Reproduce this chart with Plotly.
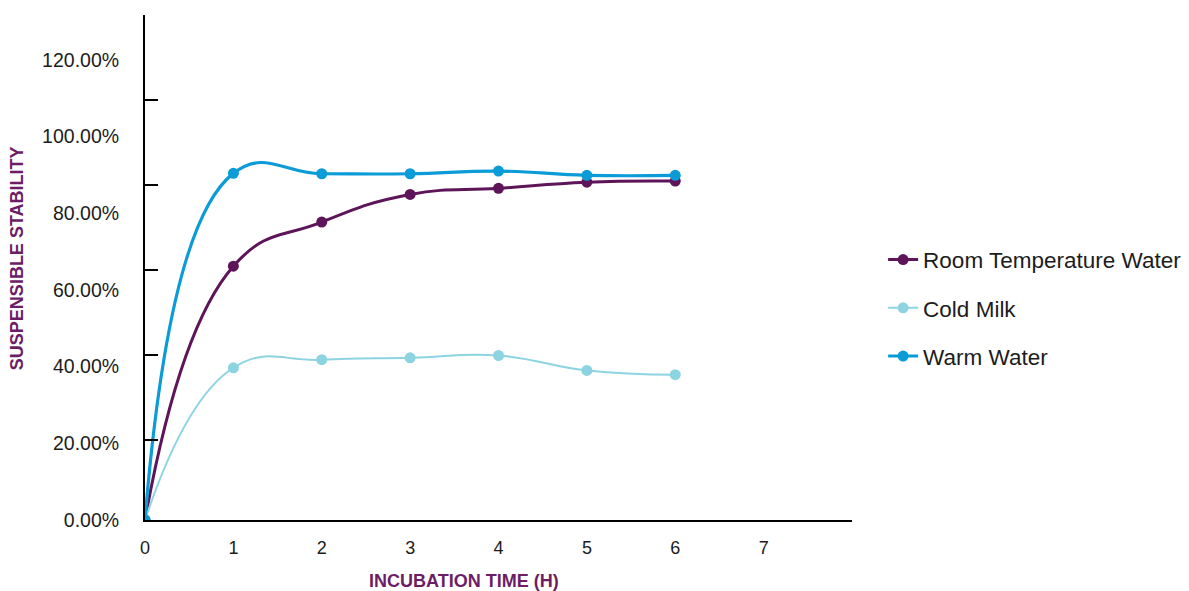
import plotly.graph_objects as go

hours = [0, 1, 2, 3, 4, 5, 6]
room_temp_water = [0.0, 66.2, 77.7, 84.9, 86.5, 88.1, 88.4]
cold_milk = [0.0, 39.7, 41.8, 42.3, 42.9, 39.0, 37.9]
warm_water = [0.0, 90.4, 90.3, 90.3, 91.0, 89.9, 89.9]

y_tick_vals = [0, 20, 40, 60, 80, 100, 120]
y_tick_text = ["0.00%", "20.00%", "40.00%", "60.00%", "80.00%", "100.00%", "120.00%"]
x_tick_vals = [0, 1, 2, 3, 4, 5, 6, 7]

FONT = "Liberation Sans, Arial, sans-serif"
TITLE_PURPLE = "#6c1d66"
TEXT = "#1c1c1c"

series = [
    ("Room Temperature Water", room_temp_water, "#5e1458", 3),
    ("Cold Milk", cold_milk, "#8dd4e2", 2),
    ("Warm Water", warm_water, "#0b9bd7", 3.2),
]

fig = go.Figure()
for i, (name, vals, color, width) in enumerate(series):
    fig.add_trace(go.Scatter(
        x=hours, y=vals, name=name, mode="lines+markers",
        line=dict(color=color, width=width, shape="spline", smoothing=1.3),
        marker=dict(color=color, size=11),
        legendgroup=f"g{i}",
    ))

# invisible trace to carry the tick-mark axis
fig.add_trace(go.Scatter(x=[None], y=[None], yaxis="y2", showlegend=False, hoverinfo="skip"))

fig.update_layout(
    width=1189, height=591,
    paper_bgcolor="white", plot_bgcolor="white",
    margin=dict(l=145, r=337, t=15, b=71, autoexpand=False),
    font=dict(family=FONT, color=TEXT, size=18),
    xaxis=dict(
        range=[0, 8], tickvals=x_tick_vals, showgrid=False, zeroline=False,
        showline=True, linecolor="black", linewidth=2, ticks="",
        tickfont=dict(size=18, color=TEXT), ticklabelstandoff=10,
    ),
    yaxis=dict(
        range=[0, 131.7], tickvals=y_tick_vals, ticktext=y_tick_text,
        showgrid=False, zeroline=False, showline=True, linecolor="black",
        linewidth=2, ticks="", tickfont=dict(size=19.5, color=TEXT),
        ticklabelstandoff=20,
    ),
    yaxis2=dict(
        overlaying="y", anchor="x", side="left", range=[0.0588, 6], dtick=1,
        tick0=0, ticks="inside", ticklen=13, tickwidth=2, tickcolor="black",
        showticklabels=False, showgrid=False, zeroline=False, showline=False,
    ),
    legend=dict(
        x=1.044, y=0.42, xanchor="left", yanchor="middle",
        font=dict(size=22.5, color=TEXT), tracegroupgap=16,
        traceorder="grouped", bgcolor="rgba(0,0,0,0)",
    ),
    showlegend=True,
    annotations=[
        dict(text="<b>INCUBATION TIME (H)</b>", xref="paper", yref="paper",
             x=0.451, y=-0.121, xanchor="center", yanchor="middle",
             showarrow=False, font=dict(size=18, color=TITLE_PURPLE)),
        dict(text="<b>SUSPENSIBLE STABILITY</b>", xref="paper", yref="paper",
             x=-0.18, y=0.518, xanchor="center", yanchor="middle", textangle=-90,
             showarrow=False, font=dict(size=18, color=TITLE_PURPLE)),
    ],
)

fig.write_html("out.html", config={"displayModeBar": False},
               post_script="document.body.style.margin='0px';")
